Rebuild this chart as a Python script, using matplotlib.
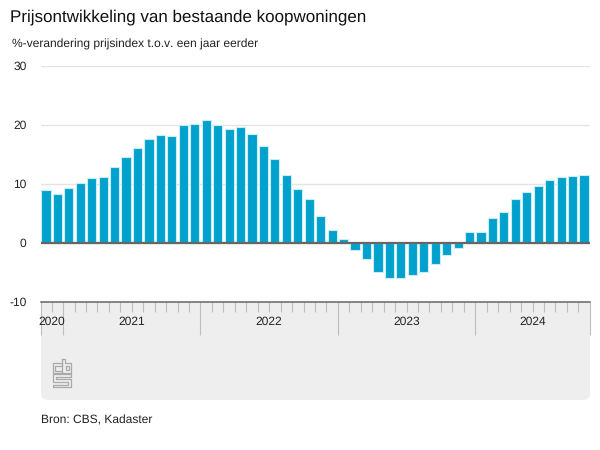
import matplotlib
matplotlib.use("Agg")
import matplotlib.pyplot as plt
from matplotlib.patches import FancyBboxPatch

plt.rcParams["font.family"] = ["Liberation Sans", "DejaVu Sans"]
plt.rcParams["axes.unicode_minus"] = False
plt.rcParams["text.hinting"] = "no_hinting"
plt.rcParams["text.hinting_factor"] = 1

# prijsindex, nov 2020 t/m okt 2024
values = [8.9, 8.3, 9.3, 10.1, 11.0, 11.2, 12.9, 14.6, 16.1, 17.6, 18.3, 18.1,
          20.0, 20.1, 20.8, 20.0, 19.3, 19.6, 18.4, 16.4, 14.2, 11.5, 9.1, 7.4,
          4.5, 2.2, 0.7, -1.2, -2.7, -4.9, -5.9, -5.9, -5.5, -4.9, -3.5, -2.1,
          -0.8, 1.8, 1.8, 4.2, 5.3, 7.4, 8.6, 9.6, 10.7, 11.2, 11.3, 11.5]
year_labels = ["2020", "2021", "2022", "2023", "2024"]
months_per_year = [2, 12, 12, 12, 10]
y_ticks = [-10, 0, 10, 20, 30]

W, H = 600, 450
fig = plt.figure(figsize=(W / 100, H / 100), dpi=100, facecolor="white")

# achtergrondlaag in pixels: grijs paneel en logo
bg = fig.add_axes([0, 0, 1, 1], zorder=0)
bg.set_xlim(0, W)
bg.set_ylim(H, 0)
bg.axis("off")
bg.add_patch(FancyBboxPatch((41, 280), 549, 120, boxstyle="round,pad=0,rounding_size=7",
                            facecolor="#eeeeee", edgecolor="none"))

logo = [
    [(61.7, 363.3), (52.7, 363.3), (52.7, 372.7), (61.7, 372.7), (61.7, 370.5), (55, 370.5), (55, 365.5), (61.7, 365.5), (61.7, 363.3)],
    [(62.3, 359.3), (65, 359.3), (65, 363.3), (71, 363.3), (71, 372.7), (62.3, 372.7), (62.3, 359.3)],
    [(65.5, 365.5), (68.5, 365.5), (68.5, 370), (65.5, 370), (65.5, 365.5)],
    [(71, 374), (52.7, 374), (52.7, 381.5), (68.3, 381.5), (68.3, 384.5), (52.7, 384.5), (52.7, 387.3), (71, 387.3), (71, 379), (55.5, 379), (55.5, 376.5), (71, 376.5), (71, 374)],
]
for part in logo:
    bg.plot([p[0] for p in part], [p[1] for p in part], color="#aaaaaa", lw=0.9)

bg.text(10, 17, "Prijsontwikkeling van bestaande koopwoningen", fontsize=12.24,
        color="#111111", va="center", ha="left")
bg.text(12, 44, "%-verandering prijsindex t.o.v. een jaar eerder", fontsize=8.6,
        color="#222222", va="center", ha="left")
bg.text(41, 420, "Bron: CBS, Kadaster", fontsize=8.64, color="#222222", va="center", ha="left")

# grafiek
x_left, x_right = -0.43, 47.52
ax = fig.add_axes([41 / W, 1 - 302 / H, 549 / W, 236 / H], zorder=1)
ax.set_xlim(x_left, x_right)
ax.set_ylim(-10, 30)

ax.bar(range(len(values)), values, width=0.8, color="#00a1cd", edgecolor="#c9edf6",
       linewidth=0.8, zorder=2)

ax.set_yticks(y_ticks)
ax.grid(axis="y", color="#e4e4e4", linewidth=1.0, zorder=1)
ax.axhline(0, color="#666666", linewidth=1.6, zorder=3)
ax.tick_params(axis="y", length=0, pad=10.5, labelsize=8.64, labelcolor="#222222")

for side in ["top", "left", "right"]:
    ax.spines[side].set_visible(False)
ax.spines["bottom"].set_color("#666666")
ax.spines["bottom"].set_linewidth(1.1)

# maand- en jaarstreepjes, jaarlabels onder de as
year_edges = [x_left]
month_count = 0
for n in months_per_year[:-1]:
    month_count += n
    year_edges.append(month_count - 0.5)
year_edges.append(x_right)
month_edges = [i - 0.5 for i in range(1, len(values)) if i - 0.5 not in year_edges]
ax.set_xticks(year_edges)
ax.set_xticks(month_edges, minor=True)
ax.set_xticklabels([])
ax.tick_params(axis="x", which="major", length=23.5, width=0.8, color="#bdbdbd")
ax.tick_params(axis="x", which="minor", length=7.5, width=0.8, color="#bdbdbd")

trans = ax.get_xaxis_transform()
for i, label in enumerate(year_labels):
    ax.text((year_edges[i] + year_edges[i + 1]) / 2, -0.085, label, transform=trans,
            ha="center", va="center", fontsize=8.64, color="#222222")

fig.savefig("out.png", dpi=100)
